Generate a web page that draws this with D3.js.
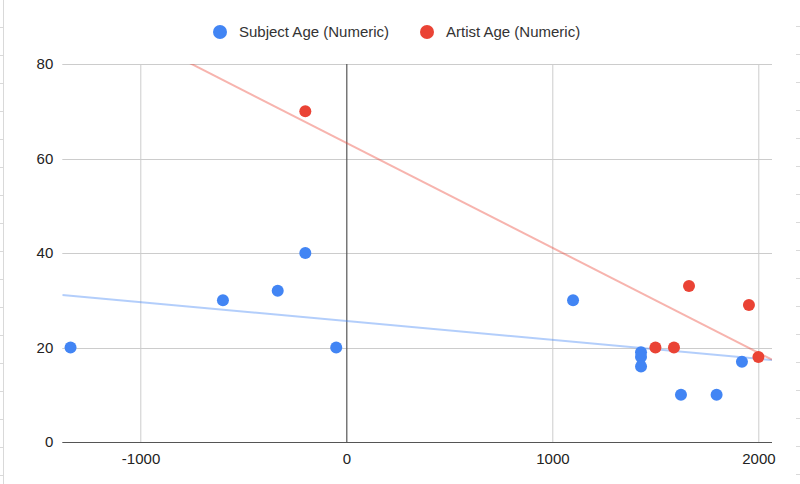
<!DOCTYPE html>
<html>
<head>
<meta charset="utf-8">
<script src="https://cdn.jsdelivr.net/npm/d3@7"></script>
<style>
  body { margin: 0; background: #fff; }
  text { font-family: Arial, "Liberation Sans", sans-serif; }
</style>
</head>
<body>
<div id="canvas"></div>
<script>
// data
const subjectYear = [-1340, -600, -334, -200, -50, 1100, 1430, 1430, 1430, 1624, 1797, 1920];
const subjectAge  = [20, 30, 32, 40, 20, 30, 19, 18, 16, 10, 10, 17];
const artistYear  = [-200, 1500, 1590, 1663, 1954, 2000];
const artistAge   = [70, 20, 20, 33, 29, 18];
// linear trendlines [intercept, slope] as drawn in the picture
const subjectTrend = [25.6, -0.0040];
const artistTrend  = [63.3, -0.0222];
const seriesNames  = ["Subject Age (Numeric)", "Artist Age (Numeric)"];
const xTicks = [-1000, 0, 1000, 2000];
const yTicks = [0, 20, 40, 60, 80];

const width = 800, height = 484;
const margin = { top: 64, right: 28, bottom: 42, left: 62.3 };
const graphWidth = width - margin.left - margin.right;
const graphHeight = height - margin.top - margin.bottom;

const blue = "#4285f4", red = "#ea4335";

const svg = d3.select("#canvas").append("svg")
    .attr("width", width)
    .attr("height", height);

// faint spreadsheet edges behind the chart
const edge = svg.append("g").attr("stroke", "#d9d9d9").attr("stroke-width", 1);
edge.append("line").attr("x1", 3.5).attr("x2", 3.5).attr("y1", 0).attr("y2", height);
d3.range(27, height, 28).forEach(y => {
  edge.append("line").attr("x1", 0).attr("x2", 3).attr("y1", y + 0.5).attr("y2", y + 0.5);
  edge.append("line").attr("x1", 796).attr("x2", 800).attr("y1", y - 0.5).attr("y2", y - 0.5);
});

const graph = svg.append("g")
    .attr("transform", `translate(${margin.left},${margin.top})`);

const x = d3.scaleLinear().domain([-1380, 2066]).range([0, graphWidth]);
const y = d3.scaleLinear().domain([0, 80]).range([graphHeight, 0]);

// gridlines
graph.append("g").selectAll("line")
  .data(yTicks.filter(d => d !== 0))
  .enter().append("line")
    .attr("x1", 0).attr("x2", graphWidth)
    .attr("y1", d => Math.round(y(d)) + 0.5).attr("y2", d => Math.round(y(d)) + 0.5)
    .attr("stroke", "#cccccc");

graph.append("g").selectAll("line")
  .data(xTicks.filter(d => d !== 0))
  .enter().append("line")
    .attr("y1", 0).attr("y2", graphHeight)
    .attr("x1", d => Math.round(x(d)) + 0.5).attr("x2", d => Math.round(x(d)) + 0.5)
    .attr("stroke", "#cccccc");

// zero lines
graph.append("line")
    .attr("x1", Math.round(x(0)) + 0.5).attr("x2", Math.round(x(0)) + 0.5)
    .attr("y1", 0).attr("y2", graphHeight)
    .attr("stroke", "#555").attr("stroke-width", 1.2);
graph.append("line")
    .attr("x1", 0).attr("x2", graphWidth)
    .attr("y1", Math.round(y(0)) + 0.5).attr("y2", Math.round(y(0)) + 0.5)
    .attr("stroke", "#555").attr("stroke-width", 1.2);

// axes (labels only), plain hyphen for negatives like the original
const plain = d => String(d);
const yAxis = d3.axisLeft(y).tickValues(yTicks).tickFormat(plain).tickSize(0).tickPadding(9);
const xAxis = d3.axisBottom(x).tickValues(xTicks).tickFormat(plain).tickSize(0).tickPadding(11);

const yAxisGroup = graph.append("g").call(yAxis);
const xAxisGroup = graph.append("g").attr("transform", `translate(0,${graphHeight})`).call(xAxis);
[yAxisGroup, xAxisGroup].forEach(g => {
  g.select(".domain").remove();
  g.selectAll("text")
    .attr("font-size", 15)
    .attr("fill", "#222")
    .style("font-family", "Arial, 'Liberation Sans', sans-serif");
});

// trendlines, clipped to the plot
graph.append("clipPath").attr("id", "plot-clip")
  .append("rect").attr("width", graphWidth).attr("height", graphHeight);

const trends = [[subjectTrend, blue], [artistTrend, red]];
const xDom = x.domain();
trends.forEach(([t, c]) => {
  graph.append("line")
      .attr("clip-path", "url(#plot-clip)")
      .attr("x1", x(xDom[0])).attr("y1", y(t[0] + t[1] * xDom[0]))
      .attr("x2", x(xDom[1])).attr("y2", y(t[0] + t[1] * xDom[1]))
      .attr("stroke", c).attr("stroke-opacity", 0.4).attr("stroke-width", 2);
});

// points
graph.append("g").selectAll("circle")
  .data(subjectYear.map((d, i) => [d, subjectAge[i]]))
  .enter().append("circle")
    .attr("cx", d => x(d[0])).attr("cy", d => y(d[1]))
    .attr("r", 6).attr("fill", blue);

graph.append("g").selectAll("circle")
  .data(artistYear.map((d, i) => [d, artistAge[i]]))
  .enter().append("circle")
    .attr("cx", d => x(d[0])).attr("cy", d => y(d[1]))
    .attr("r", 6).attr("fill", red);

// legend
const legend = svg.append("g").attr("transform", "translate(0,32)");
const legendX = [220, 427];
seriesNames.forEach((name, i) => {
  legend.append("circle")
      .attr("cx", legendX[i]).attr("cy", 0).attr("r", 7)
      .attr("fill", i === 0 ? blue : red);
  legend.append("text")
      .attr("x", legendX[i] + 19).attr("y", 0)
      .attr("dy", "0.35em")
      .attr("font-size", 15)
      .attr("fill", "#333")
      .text(name);
});
</script>
</body>
</html>
